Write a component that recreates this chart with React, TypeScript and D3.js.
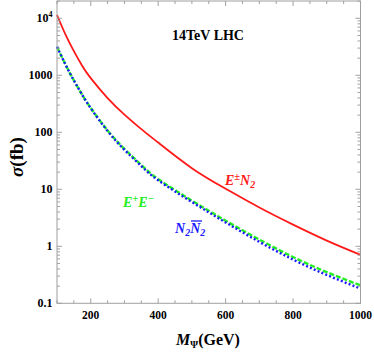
import React from "react";
import * as d3 from "d3";

const masses = [100, 125, 150, 175, 200, 250, 300, 350, 400, 500, 600, 700, 800, 900, 1000];
const sigmaENp = [11430, 5224, 2649, 1455, 892, 398.5, 204.4, 113.6, 66.1, 23.5, 10.24, 4.79, 2.4, 1.26, 0.709];
const sigmaEE = [3162, 1549, 813, 454, 267.6, 107.8, 51.0, 26.7, 15.1, 6.34, 2.81, 1.31, 0.649, 0.352, 0.206];
const sigmaNN = [3162, 1549, 813, 452, 264.6, 105.3, 49.3, 25.6, 14.4, 5.99, 2.62, 1.195, 0.585, 0.314, 0.182];

const xMajor = [200, 400, 600, 800, 1000];
const yMajor = [0.1, 1, 10, 100, 1000, 10000];
const yMajorLabels = ["0.1", "1", "10", "100", "1000", "10^4"];

const W = 374, H = 352;
const left = 57, right = 360.5, top = 1, bottom = 303.3;

export default function App() {
  const x = d3.scaleLinear().domain([100, 1000]).range([left, right]);
  const y = d3.scaleLog().domain([0.1, 10000]).range([bottom, 18.3]);

  const mk = (vals: number[]) =>
    d3.line<number>().x((_, i) => x(masses[i])).y((v) => y(v)).curve(d3.curveNatural)(vals) || "";

  const axisColor = "#a0a0a0";
  const xMinor = d3.range(100, 1001, 50).filter((v) => !xMajor.includes(v));
  const yMinor: number[] = [];
  for (let e = -1; e <= 4; e++) for (let k = 2; k <= 9; k++) {
    const v = k * Math.pow(10, e);
    if (y(v) >= top) yMinor.push(v);
  }
  const font = "'Liberation Serif', 'Times New Roman', serif";

  return (
    <svg width={W} height={H} style={{ position: "absolute", left: 0, top: 0 }} fontFamily={font}>
      <rect x={0} y={0} width={W} height={H} fill="#fff" />
      {/* curves */}
      <path d={mk(sigmaENp)} fill="none" stroke="#ff1a1a" strokeWidth={1.8} />
      <path d={mk(sigmaEE)} fill="none" stroke="#22ee22" strokeWidth={2.4} strokeDasharray="5,2" />
      <path d={mk(sigmaNN)} fill="none" stroke="#1a1aff" strokeWidth={2.4} strokeDasharray="2,2.2" />
      {/* frame */}
      <rect x={left} y={top} width={right - left} height={bottom - top} fill="none" stroke={axisColor} strokeWidth={1} />
      {/* x ticks */}
      {xMajor.map((v) => (
        <g key={"xm" + v}>
          <line x1={x(v)} x2={x(v)} y1={bottom} y2={bottom - 5} stroke={axisColor} />
          <line x1={x(v)} x2={x(v)} y1={top} y2={top + 5} stroke={axisColor} />
          <text x={x(v)} y={318.5} textAnchor="middle" fontSize={11.5} fontWeight="bold">{v}</text>
        </g>
      ))}
      {xMinor.map((v) => (
        <g key={"xn" + v}>
          <line x1={x(v)} x2={x(v)} y1={bottom} y2={bottom - 3} stroke={axisColor} />
          <line x1={x(v)} x2={x(v)} y1={top} y2={top + 3} stroke={axisColor} />
        </g>
      ))}
      {/* y ticks */}
      {yMajor.map((v, i) => (
        <g key={"ym" + v}>
          <line x1={left} x2={left + 5} y1={y(v)} y2={y(v)} stroke={axisColor} />
          <line x1={right} x2={right - 5} y1={y(v)} y2={y(v)} stroke={axisColor} />
          {yMajorLabels[i].startsWith("10^") ? (
            <text x={52.5} y={y(v) + 4} textAnchor="end" fontSize={12} fontWeight="bold">
              10<tspan dy={-5} fontSize={8}>{yMajorLabels[i].slice(3)}</tspan>
            </text>
          ) : (
            <text x={52.5} y={y(v) + 4} textAnchor="end" fontSize={12} fontWeight="bold">{yMajorLabels[i]}</text>
          )}
        </g>
      ))}
      {yMinor.map((v) => (
        <g key={"yn" + v}>
          <line x1={left} x2={left + 3} y1={y(v)} y2={y(v)} stroke={axisColor} />
          <line x1={right} x2={right - 3} y1={y(v)} y2={y(v)} stroke={axisColor} />
        </g>
      ))}
      {/* title */}
      <text x={208} y={39.5} textAnchor="middle" fontSize={14} fontWeight="bold">14TeV LHC</text>
      {/* curve labels */}
      <text x={225} y={185} fontSize={14} fontWeight="bold" fontStyle="italic" fill="#ff1a1a">
        E<tspan dy={-5} fontSize={10.5}>±</tspan><tspan dy={5}>N</tspan><tspan dy={3} fontSize={10}>2</tspan>
      </text>
      <text x={123} y={207} fontSize={14} fontWeight="bold" fontStyle="italic" fill="#22ee22">
        E<tspan dy={-5} fontSize={10.5}>+</tspan><tspan dy={5}>E</tspan><tspan dy={-5} fontSize={10.5}>−</tspan>
      </text>
      <g fill="#1a1aff" fontSize={14} fontWeight="bold" fontStyle="italic">
        <text x={175} y={233}>
          N<tspan dy={3} fontSize={10}>2</tspan><tspan dy={-3}>N</tspan><tspan dy={3} fontSize={10}>2</tspan>
        </text>
        <line x1={191} x2={202} y1={221} y2={221} stroke="#1a1aff" strokeWidth={1.3} />
      </g>
      {/* axis labels */}
      <text x={208} y={345} textAnchor="middle" fontSize={16} fontWeight="bold">
        <tspan fontStyle="italic">M</tspan><tspan dy={3} fontSize={10}>Ψ</tspan><tspan dy={-3}>(GeV)</tspan>
      </text>
      <text transform="translate(23,157) rotate(-90)" textAnchor="middle" fontSize={19} fontWeight="bold">
        <tspan fontStyle="italic">σ</tspan>(fb)
      </text>
    </svg>
  );
}
